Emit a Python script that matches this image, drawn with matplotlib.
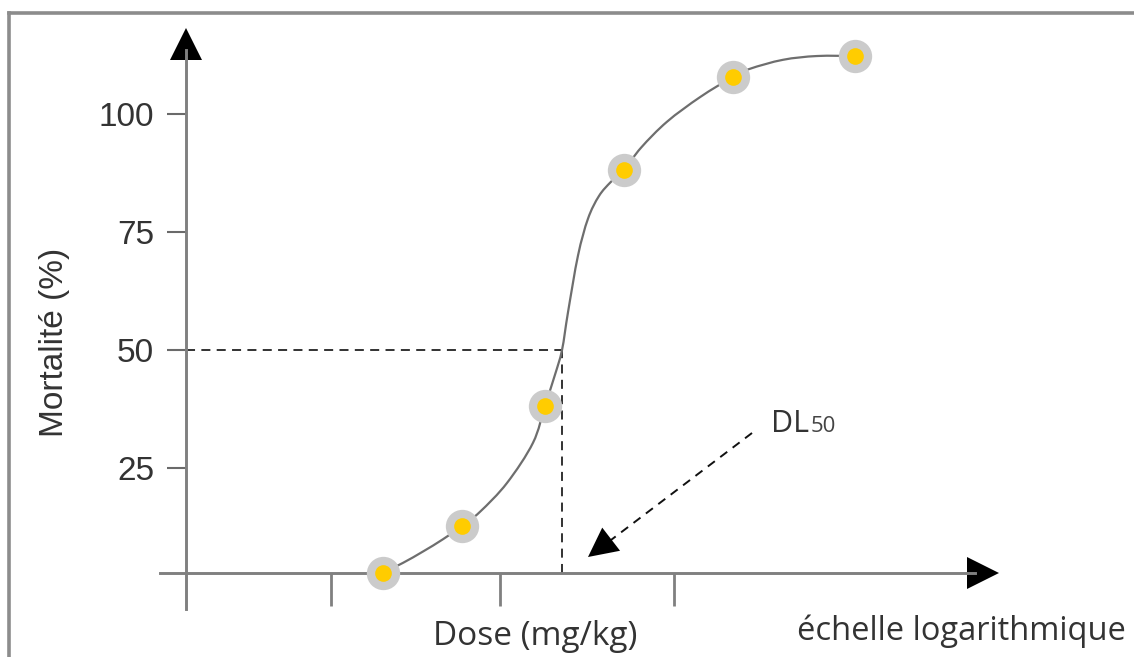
import matplotlib
matplotlib.use("Agg")
import matplotlib.pyplot as plt
from matplotlib.lines import Line2D
from matplotlib.path import Path
from matplotlib.patches import PathPatch

# ---------------- data (x: position on log-dose axis, y: mortality %) ----------------
dose_obs = [1.97, 2.76, 3.59, 4.38, 5.47, 6.69]
mort_obs = [2.9, 12.8, 38.2, 88.1, 107.8, 112.2]

curve_dose = [1.97, 2.17, 2.37, 2.57, 2.76, 2.94, 3.21, 3.47, 3.59, 3.69, 3.76,
              3.82, 3.92, 4.02, 4.13, 4.25, 4.38, 4.55, 4.81, 5.14, 5.47, 5.64,
              5.97, 6.31, 6.69]
curve_mort = [2.9, 5.0, 7.4, 10.0, 12.8, 15.8, 21.9, 30.4, 38.2, 44.8, 50.0,
              58.0, 70.0, 77.8, 82.6, 85.6, 88.1, 92.8, 98.3, 103.5, 107.8, 109.5,
              111.4, 112.2, 112.2]

ld50_dose = 3.76
ld50_mort = 50

y_ticks = [25, 50, 75, 100]
y_tick_labels = [str(v) for v in y_ticks]
x_tick_pos = [1.45, 3.14, 4.88]

x_label = "Dose (mg/kg)"
x_scale_note = "échelle logarithmique"
y_label = "Mortalité (%)"

# ---------------- layout ----------------
W, H = 1134, 657
PX0, PY0, SX, SY = 186, 586.5, 100.0, 4.728   # pixel mapping of the schematic axes
axis_level = (PY0 - 573) / SY

def dx(px):
    return (px - PX0) / SX

def dy(py):
    return (PY0 - py) / SY

fig = plt.figure(figsize=(W / 100, H / 100), dpi=100)
ax = fig.add_axes([0, 0, 1, 1])
ax.set_xlim(dx(0), dx(W))
ax.set_ylim(dy(H), dy(0))
ax.patch.set_visible(False)

axis_col = "#808080"
txt_col = "#333333"

for s in ["top", "right"]:
    ax.spines[s].set_visible(False)
ax.spines["left"].set_position(("data", 0))
ax.spines["bottom"].set_position(("data", axis_level))
ax.spines["left"].set_bounds(dy(609), dy(50))
ax.spines["bottom"].set_bounds(dx(160), dx(975))
for s in ["left", "bottom"]:
    ax.spines[s].set_color(axis_col)
    ax.spines[s].set_linewidth(2.1)

ax.set_yticks(y_ticks)
ax.set_yticklabels(y_tick_labels, fontfamily="Liberation Sans")
ax.tick_params(axis="y", direction="out", length=14, width=1.5, color="#6a6a6a",
               pad=9, labelsize=24, labelcolor=txt_col)
ax.set_xticks(x_tick_pos)
ax.set_xticklabels([""] * len(x_tick_pos))
ax.tick_params(axis="x", direction="out", length=23.5, width=2.0, color=axis_col)

# axis arrow heads
ax.plot([0], [dy(43.5)], marker="^", ms=22.5, color="black", mew=0, clip_on=False)
ax.plot([dx(983)], [axis_level], marker=">", ms=22.5, color="black", mew=0, clip_on=False)

# LD50 guide lines
ax.plot([0, ld50_dose], [ld50_mort, ld50_mort], color="#222222", lw=1.3,
        ls=(0, (5, 3.5)))
ax.plot([ld50_dose, ld50_dose], [axis_level, ld50_mort], color="#222222", lw=1.3,
        ls=(0, (5, 3.5)))

# smooth sigmoid curve through the read points (Catmull-Rom -> cubic Bezier)
pts = list(zip(curve_dose, curve_mort))
verts = [pts[0]]
codes = [Path.MOVETO]
n = len(pts)
for i in range(n - 1):
    p0 = pts[i - 1] if i > 0 else pts[i]
    p1 = pts[i]
    p2 = pts[i + 1]
    p3 = pts[i + 2] if i + 2 < n else pts[i + 1]
    c1 = (p1[0] + (p2[0] - p0[0]) / 6, p1[1] + (p2[1] - p0[1]) / 6)
    c2 = (p2[0] - (p3[0] - p1[0]) / 6, p2[1] - (p3[1] - p1[1]) / 6)
    verts += [c1, c2, p2]
    codes += [Path.CURVE4] * 3
ax.add_patch(PathPatch(Path(verts, codes), facecolor="none", edgecolor="#6e6e6e",
                       lw=1.6, zorder=3))

ax.plot(dose_obs, mort_obs, ls="none", marker="o", ms=24, color="#cbcbcb", mew=0, zorder=4)
ax.plot(dose_obs, mort_obs, ls="none", marker="o", ms=12, color="#ffcc00", mew=0, zorder=5)

# DL50 annotation: dashed shaft + solid head
ax.plot([dx(752), dx(611)], [dy(433), dy(540)], color="#111111", lw=1.4,
        ls=(0, (4.5, 3.5)))
ax.annotate("", xy=(dx(588), dy(557)), xytext=(dx(614), dy(537)),
            arrowprops=dict(arrowstyle="-|>,head_length=2.1,head_width=1.05",
                            color="black", lw=0.01, shrinkA=0, shrinkB=0))
ax.text(dx(771), dy(432), "DL", fontsize=22, color=txt_col, family="Open Sans",
        ha="left", va="baseline")
ax.text(dx(811), dy(432), "50", fontsize=16, color="#444444", family="Open Sans",
        ha="left", va="baseline")

# labels
ax.text(dx(535.5), dy(645), x_label, fontsize=24, color=txt_col, family="Open Sans",
        ha="center", va="baseline")
ax.text(dx(797), dy(640), x_scale_note, fontsize=23.5, color=txt_col, family="Open Sans",
        ha="left", va="baseline")
ax.text(55 / W, 1 - 342 / H, y_label, transform=ax.transAxes, rotation=90,
        fontsize=24, color=txt_col, family="Liberation Sans", ha="center", va="center")

# outer frame (top and left edges visible)
frame_col = "#8c8c8c"
fig.add_artist(Line2D([9 / W, 9 / W], [0, 1 - 13 / H], color=frame_col, lw=2.6,
                      transform=fig.transFigure))
fig.add_artist(Line2D([9 / W, 1], [1 - 13 / H, 1 - 13 / H], color=frame_col, lw=2.6,
                      transform=fig.transFigure))

fig.savefig("out.png", dpi=100)
